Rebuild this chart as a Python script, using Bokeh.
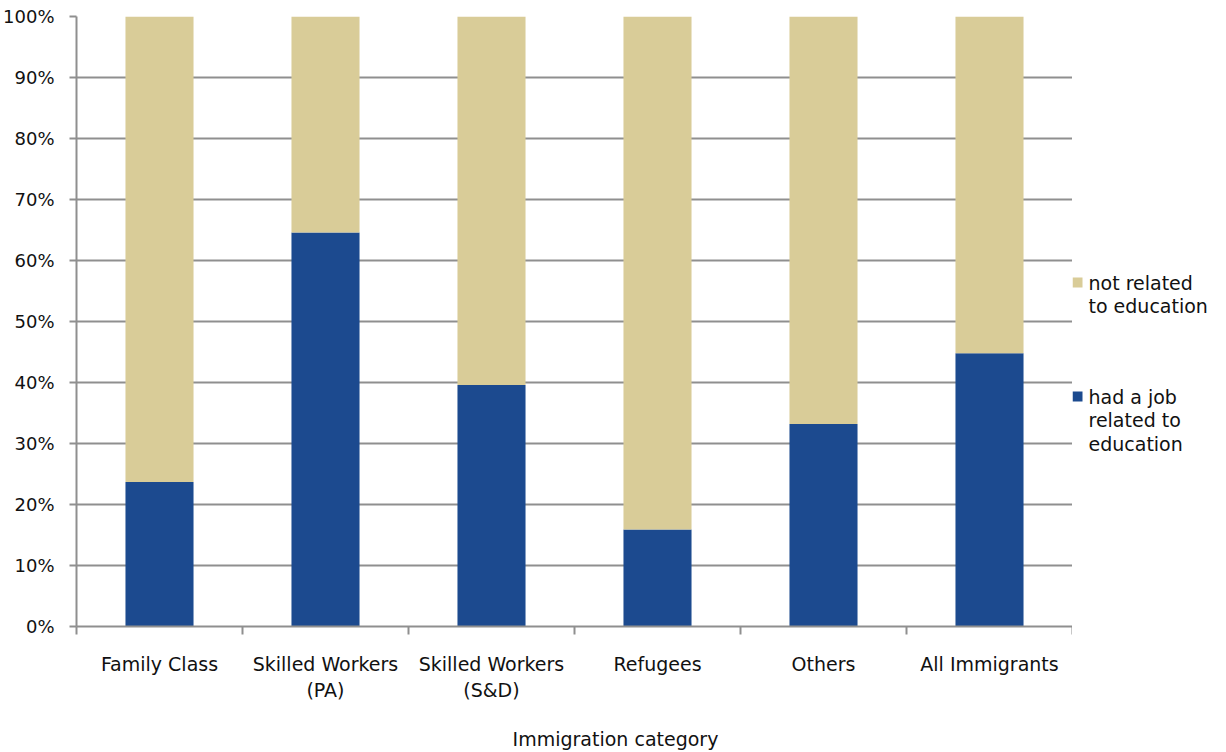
import numpy as np
from bokeh.plotting import figure
from bokeh.layouts import row, column
from bokeh.models import (Range1d, FixedTicker, NumeralTickFormatter, LinearAxis,
                          Label, ColumnDataSource)
from bokeh.embed import file_html
from bokeh.resources import INLINE

categories = ["Family Class", "Skilled Workers\n(PA)", "Skilled Workers\n(S&D)",
              "Refugees", "Others", "All Immigrants"]
related = [0.237, 0.646, 0.396, 0.159, 0.332, 0.448]
not_related = [1 - v for v in related]
series_names = ["had a job\nrelated to\neducation", "not related\nto education"]
x_title = "Immigration category"
colors = ["#1C4A8F", "#D9CC98"]
y_ticks = [i / 10 for i in range(11)]

FONT = "DejaVu Sans"
GRID = "#8F8F8F"
TXT = "#111111"

xpos = np.arange(len(categories)) + 0.5
src = ColumnDataSource(dict(x=xpos, related=related, not_related=not_related))

p = figure(width=1072, height=716, output_backend="svg", toolbar_location=None,
           x_range=Range1d(0, len(categories)), y_range=Range1d(0, 1),
           x_axis_location=None, y_axis_location=None,
           min_border_left=75, min_border_right=0, min_border_top=16, min_border_bottom=90)
p.outline_line_color = None

p.vbar_stack(["related", "not_related"], x="x", width=0.41, color=colors,
             line_color=None, source=src)

# y axis
yax = LinearAxis(ticker=FixedTicker(ticks=y_ticks),
                 formatter=NumeralTickFormatter(format="0%"))
yax.axis_line_color = GRID
yax.axis_line_width = 2
yax.major_tick_line_color = GRID
yax.major_tick_line_width = 2
yax.major_tick_out = 7
yax.major_tick_in = 0
yax.minor_tick_line_color = None
yax.major_label_text_font = FONT
yax.major_label_text_font_size = "18px"
yax.major_label_text_color = TXT
yax.major_label_standoff = 15
p.add_layout(yax, "left")

# x axis
xax = LinearAxis(ticker=FixedTicker(ticks=list(xpos),
                                    minor_ticks=list(range(len(categories) + 1))))
xax.major_label_overrides = {float(x): c for x, c in zip(xpos, categories)}
xax.axis_line_color = GRID
xax.axis_line_width = 2
xax.major_tick_line_color = None
xax.major_tick_out = 0
xax.major_tick_in = 0
xax.minor_tick_line_color = GRID
xax.minor_tick_line_width = 2
xax.minor_tick_out = 8
xax.minor_tick_in = 0
xax.major_label_text_font = FONT
xax.major_label_text_font_size = "19px"
xax.major_label_text_color = TXT
xax.major_label_standoff = 18
p.add_layout(xax, "below")

p.xgrid.visible = False
p.ygrid.ticker = FixedTicker(ticks=y_ticks)
p.ygrid.grid_line_color = GRID
p.ygrid.grid_line_width = 2
p.ygrid.level = "underlay"

# legend panel (to the right of the plot frame; its frame is aligned with the plot frame)
leg = figure(width=154, height=716, output_backend="svg", toolbar_location=None,
             x_range=Range1d(0, 154), y_range=Range1d(626, 16),
             x_axis_location=None, y_axis_location=None,
             min_border_left=0, min_border_right=0, min_border_top=16, min_border_bottom=90)
leg.outline_line_color = None
leg.xgrid.visible = False
leg.ygrid.visible = False

leg_layout = [(series_names[1], colors[1], 282), (series_names[0], colors[0], 396)]
LINE = 23.5
for text, col, y0 in leg_layout:
    leg.scatter([5], [y0], marker="square", size=10, fill_color=col, line_color=None)
    for k, line in enumerate(text.split("\n")):
        leg.add_layout(Label(x=16, y=y0 + k * LINE, text=line, text_font=FONT,
                             text_font_size="19px", text_color=TXT,
                             text_baseline="middle", text_align="left"))

# x-axis title strip, centred on the whole picture
tfig = figure(width=1226, height=36, output_backend="svg", toolbar_location=None,
              x_range=Range1d(0, 1226), y_range=Range1d(36, 0),
              x_axis_location=None, y_axis_location=None,
              min_border_left=0, min_border_right=0, min_border_top=0, min_border_bottom=0)
tfig.outline_line_color = None
tfig.xgrid.visible = False
tfig.ygrid.visible = False
tfig.add_layout(Label(x=615, y=22, text=x_title, text_font=FONT, text_font_size="19px",
                      text_color=TXT, text_align="center", text_baseline="middle"))

layout = column(row(p, leg), tfig)
open("out.html", "w").write(file_html(layout, INLINE))
